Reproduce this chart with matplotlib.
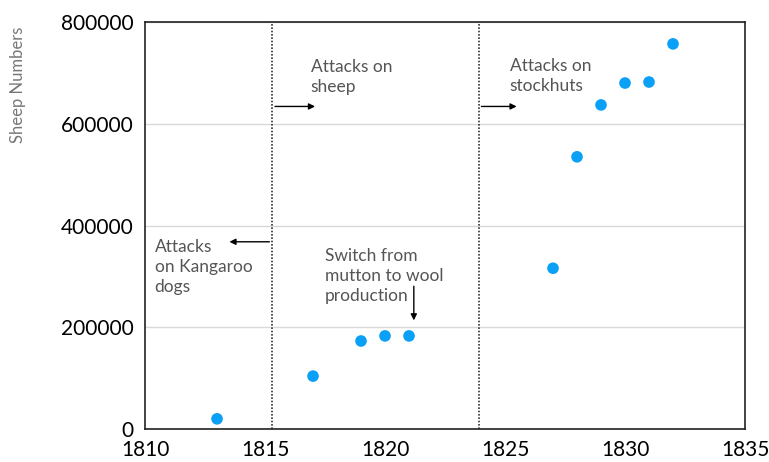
import numpy as np
import matplotlib.pyplot as plt

years = [1813, 1817, 1819, 1820, 1821, 1827, 1828, 1829, 1830, 1831, 1832]
sheep = [20000, 104000, 173000, 183000, 183000, 316000, 535000, 637000, 680000, 682000, 757000]

event_lines = [1815.3, 1823.9]

plt.rcParams['font.family'] = ['Lato', 'DejaVu Sans']

fig = plt.figure(figsize=(7.69, 4.62), dpi=100)
ax = fig.add_axes([0.1886, 0.0714, 0.7802, 0.881])

ax.set_xlim(1810, 1835)
ax.set_ylim(0, 800000)
ax.set_xticks(np.arange(1810, 1836, 5))
ax.set_yticks(np.arange(0, 800001, 200000))
ax.yaxis.grid(True, color="#d9d9d9", lw=1)
ax.set_axisbelow(True)
ax.tick_params(length=0, labelsize=15, colors="black", pad=8)
for s in ax.spines.values():
    s.set_linewidth(1.2)
    s.set_color("#222222")

# y label sits well left of the tick labels
fig.text(18 / 769, 1 - 85 / 462, "Sheep Numbers", rotation=90, fontsize=12,
         color="#777777", ha="center", va="center")

for x in event_lines:
    ax.axvline(x, color="#333333", ls=(0, (1, 1)), lw=1.2)

ax.scatter(years, sheep, s=70, color="#0aa0f5", zorder=3, edgecolors="none")

txt = dict(fontsize=12.5, color="#555555", linespacing=1.3, va="top")
arr = dict(arrowstyle="-|>", color="black", lw=1, mutation_scale=9)

ax.text(1816.9, 728000, "Attacks on\nsheep", **txt)
ax.annotate("", xy=(1817.2, 634000), xytext=(1815.3, 634000), arrowprops=arr)

ax.text(1825.2, 730000, "Attacks on\nstockhuts", **txt)
ax.annotate("", xy=(1825.6, 634000), xytext=(1823.9, 634000), arrowprops=arr)

ax.text(1810.4, 373000, "Attacks\non Kangaroo\ndogs", **txt)
ax.annotate("", xy=(1813.4, 368000), xytext=(1815.3, 368000), arrowprops=arr)

ax.text(1817.5, 356000, "Switch from\nmutton to wool\nproduction", **txt)
ax.annotate("", xy=(1821.2, 208000), xytext=(1821.2, 286000), arrowprops=arr)

fig.savefig("out.png", dpi=100)
